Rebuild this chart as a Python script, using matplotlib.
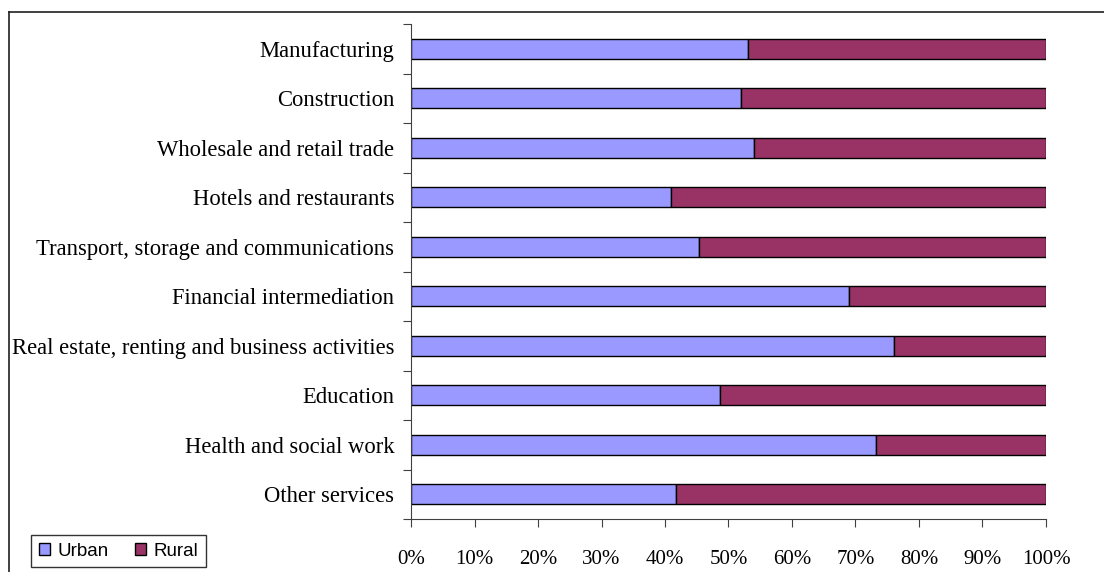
import matplotlib.pyplot as plt
from matplotlib.lines import Line2D
from matplotlib.patches import Patch
import numpy as np

sectors = ["Manufacturing", "Construction", "Wholesale and retail trade",
           "Hotels and restaurants", "Transport, storage and communications",
           "Financial intermediation",
           "Real estate, renting and business activities", "Education",
           "Health and social work", "Other services"]
urban = [53.1, 51.9, 54.0, 40.9, 45.4, 69.0, 76.1, 48.6, 73.3, 41.7]
rural = [100 - u for u in urban]
x_ticks = [0, 10, 20, 30, 40, 50, 60, 70, 80, 90, 100]

urban_color = "#9999FF"
rural_color = "#993366"

fig = plt.figure(figsize=(11.04, 5.72), dpi=100)
ax = fig.add_axes([411 / 1104, 1 - 519 / 572, 635 / 1104, 495 / 572])

n = len(sectors)
y = np.arange(n)[::-1]
ax.barh(y, urban, height=0.4, color=urban_color, edgecolor="black", linewidth=1)
ax.barh(y, rural, left=urban, height=0.4, color=rural_color,
        edgecolor="black", linewidth=1)

ax.set_xlim(0, 100)
ax.set_ylim(-0.5, n - 0.5)
ax.set_xticks(x_ticks)
ax.set_xticklabels([f"{t}%" for t in x_ticks], family="Liberation Serif",
                   fontsize=15)
ax.tick_params(axis="x", direction="out", length=6, pad=16, color="#404040")

ax.set_yticks(np.arange(n + 1) - 0.5)
ax.set_yticklabels([])
ax.tick_params(axis="y", which="major", direction="out", length=6,
               color="#404040")
ax.set_yticks(y, minor=True)
ax.set_yticklabels(sectors, minor=True, family="Liberation Serif", fontsize=16.3)
ax.tick_params(axis="y", which="minor", length=0, pad=12)

for s in ["top", "right"]:
    ax.spines[s].set_visible(False)
for s in ["left", "bottom"]:
    ax.spines[s].set_color("#404040")

# outer chart border
fig.add_artist(Line2D([9 / 1104, 1], [1 - 12 / 572, 1 - 12 / 572],
                      color="#202020", linewidth=1.2))
fig.add_artist(Line2D([9 / 1104, 9 / 1104], [0, 1 - 12 / 572],
                      color="#202020", linewidth=1.2))

handles = [Patch(facecolor=urban_color, edgecolor="black", label="Urban"),
           Patch(facecolor=rural_color, edgecolor="black", label="Rural")]
fig.legend(handles=handles, loc="lower left",
           bbox_to_anchor=(31 / 1104, 1 - 567 / 572), ncol=2,
           prop={"family": "Liberation Sans", "size": 13.5},
           frameon=True, fancybox=False, edgecolor="black",
           handlelength=0.6, handleheight=0.6, handletextpad=0.4,
           columnspacing=1.4, borderpad=0.4, borderaxespad=0)

fig.savefig("out.png", dpi=100)
